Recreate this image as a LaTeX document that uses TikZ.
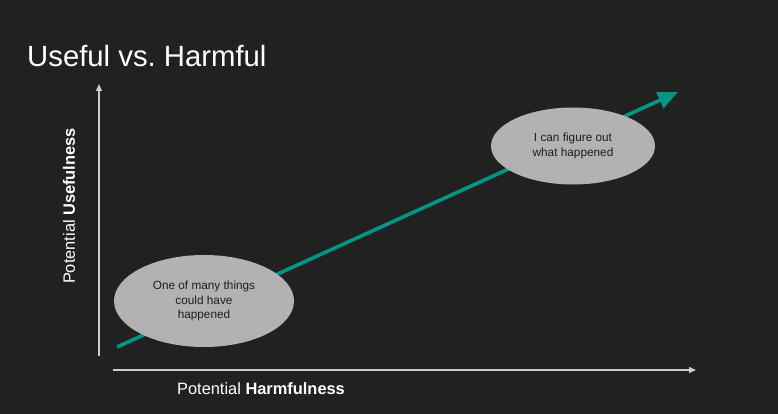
\documentclass[tikz,border=0pt]{standalone}
\usepackage{fontspec}
\setmainfont{Liberation Sans}
\frenchspacing
\usetikzlibrary{shapes.geometric,arrows.meta}
\definecolor{bg}{RGB}{33,33,34}
\definecolor{axisgray}{RGB}{205,205,205}
\definecolor{trendteal}{RGB}{0,150,134}
\definecolor{bubblegray}{RGB}{178,178,180}
\definecolor{bubbletext}{RGB}{30,30,30}
\tikzset{
  axisline/.style={draw=axisgray, line width=1.3pt, -{Triangle[length=7pt,width=6pt]}},
  trendline/.style={draw=trendteal, line width=3.6pt, -{Triangle[length=20pt,width=17pt]}},
  bubble/.style={ellipse, fill=bubblegray, inner sep=0pt, text=bubbletext,
    font=\fontsize{11.8}{14.2}\selectfont, align=center},
  axislabel/.style={text=white, font=\fontsize{16.4}{19}\selectfont, inner sep=0pt},
}
\begin{document}
\begin{tikzpicture}[x=1pt,y=-1pt]
\fill[bg] (0,0) rectangle (778,414);
\useasboundingbox (0,0) rectangle (778,414);

% title
\node[anchor=base west, text=white, font=\fontsize{29.3}{34}\selectfont, inner sep=0pt]
  (title) at (27,67) {Useful vs. Harmful};

% axes
\coordinate (yfoot) at (99,356);
\coordinate (ytip) at (99,84);
\coordinate (xfoot) at (113,370);
\coordinate (xtip) at (696,370);
\draw[axisline] (yfoot) -- (ytip);
\draw[axisline] (xfoot) -- (xtip);

\node[axislabel, rotate=90] (ylab) at (69,206) {Potential \textbf{Usefulness}};
\node[axislabel, anchor=base] (xlab) at (261,394) {Potential \textbf{Harmfulness}};

% trend arrow, behind the bubbles
\coordinate (tstart) at (117,347);
\coordinate (tend) at (678,92);
\draw[trendline] (tstart) -- (tend);

% bubbles
\node[bubble, minimum width=180pt, minimum height=92pt] (low) at (204,301)
  {One of many things\\could have\\happened};
\node[bubble, minimum width=164pt, minimum height=77pt] (high) at (573,146)
  {I can figure out\\what happened};
\end{tikzpicture}
\end{document}
